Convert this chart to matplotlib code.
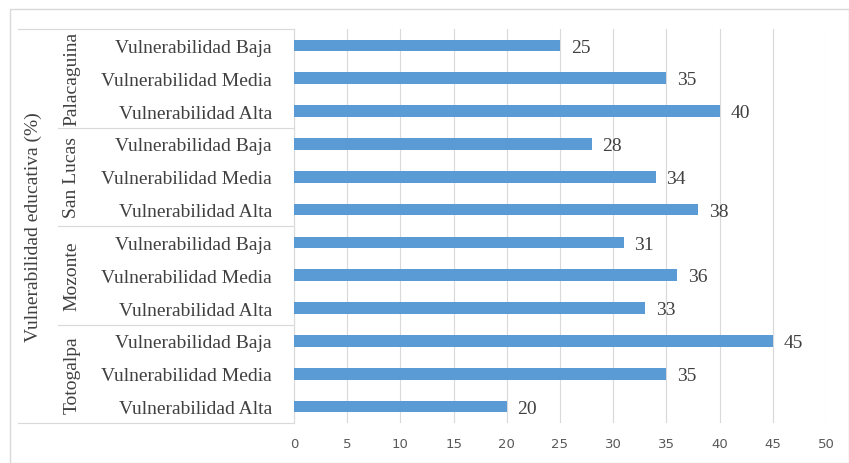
import matplotlib.pyplot as plt
from matplotlib.lines import Line2D
from matplotlib.patches import Rectangle

# data, top to bottom as in the picture
groups = ['Palacaguina', 'San Lucas', 'Mozonte', 'Totogalpa']
levels = ['Vulnerabilidad Baja', 'Vulnerabilidad Media', 'Vulnerabilidad Alta']
palacaguina = [25, 35, 40]
san_lucas = [28, 34, 38]
mozonte = [31, 36, 33]
totogalpa = [45, 35, 20]
ticks = [0, 5, 10, 15, 20, 25, 30, 35, 40, 45, 50]

values = palacaguina + san_lucas + mozonte + totogalpa
labels = levels * len(groups)
n = len(values)
ypos = list(range(n))

serif = ['Liberation Serif', 'DejaVu Serif']
grid_c = '#d9d9d9'
txt_c = '#404040'
fs = 14
W, H = 849, 464

fig = plt.figure(figsize=(W / 100, H / 100), dpi=100)
ax = fig.add_axes([294 / W, 1 - 424 / H, (826 - 294) / W, (424 - 30) / H])

ax.barh(ypos, values, height=0.36, color='#5b9bd5', zorder=3)
for y, v in zip(ypos, values):
    ax.text(v + 1.0, y + 0.05, str(v), va='center', ha='left', fontsize=fs,
            family=serif, color=txt_c)

ax.set_ylim(n - 0.5, -0.5)
ax.set_xlim(0, 50)
ax.set_xticks(ticks)
ax.tick_params(axis='x', length=0, labelsize=9.5, labelcolor='#595959', pad=10)
ax.set_yticks(ypos)
ax.set_yticklabels(labels, family=serif, fontsize=fs, color=txt_c)
ax.tick_params(axis='y', length=0, pad=16)
ax.xaxis.grid(True, color=grid_c, lw=0.8, zorder=0)
for s in ['top', 'right', 'bottom']:
    ax.spines[s].set_visible(False)
ax.spines['left'].set_color(grid_c)

# group labels and separators (figure pixel coords)
def fx(px):
    return px / W

def fy(py):
    return 1 - py / H

top, bottom = 30, 424
step = (bottom - top) / len(groups)
for i, g in enumerate(groups):
    y0 = top + i * step
    fig.text(fx(72), fy(y0 + step / 2), g, rotation=90, ha='center', va='center',
             family=serif, fontsize=fs, color=txt_c)
    if i > 0:
        fig.add_artist(Line2D([fx(58), fx(294)], [fy(y0), fy(y0)], color=grid_c, lw=0.8))
fig.add_artist(Line2D([fx(18), fx(294)], [fy(top), fy(top)], color=grid_c, lw=0.8))
fig.add_artist(Line2D([fx(18), fx(294)], [fy(bottom), fy(bottom)], color=grid_c, lw=0.8))

fig.text(fx(33), fy((top + bottom) / 2), 'Vulnerabilidad educativa (%)', rotation=90,
         ha='center', va='center', family=serif, fontsize=fs, color=txt_c)

# outer chart border
fig.add_artist(Rectangle((fx(10), 0), 1 - fx(10), fy(10), transform=fig.transFigure,
                         fill=False, edgecolor=grid_c, lw=1))

fig.savefig('out.png', dpi=100)
